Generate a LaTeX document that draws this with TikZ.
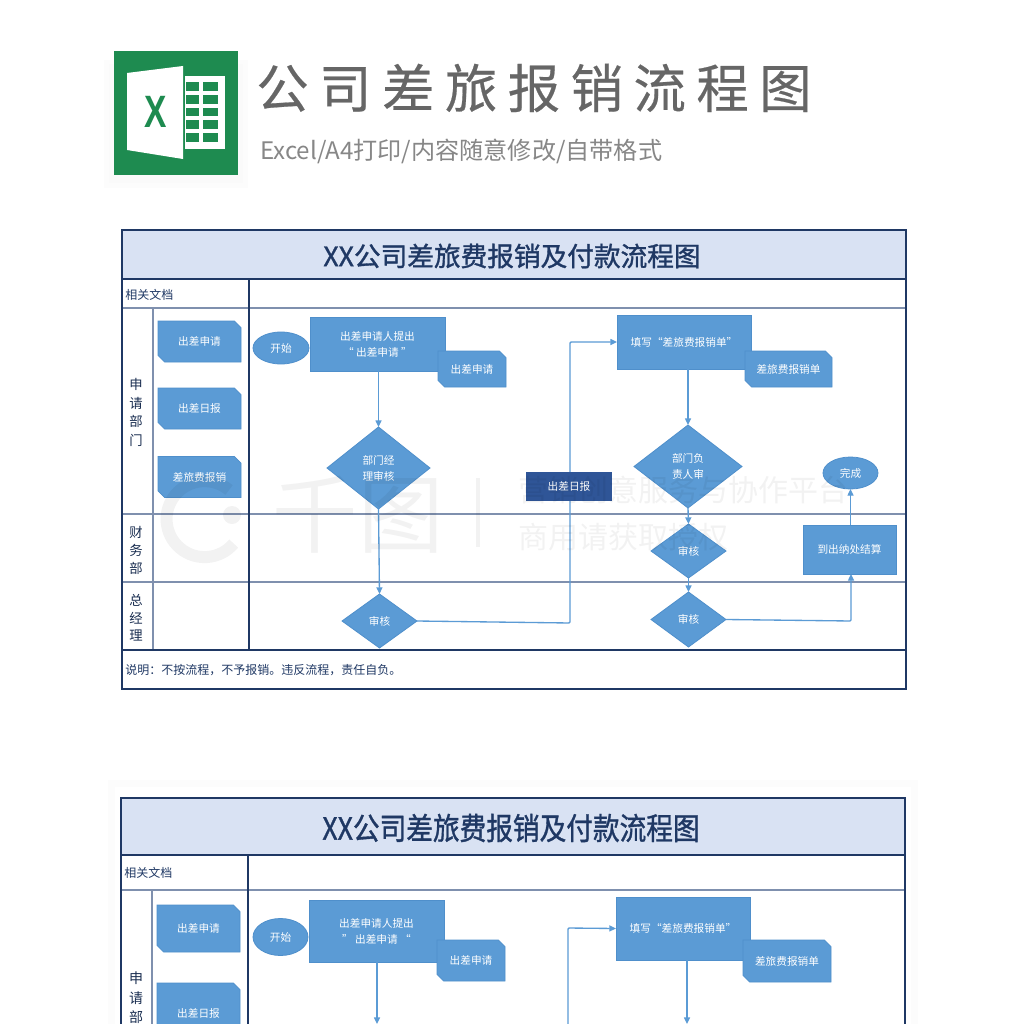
\documentclass[tikz,border=0pt]{standalone}
\usepackage{fontspec}
\usetikzlibrary{shapes.geometric,shapes.misc,arrows.meta}
\setmainfont{Noto Sans CJK SC}
\newfontfamily\cjk{Noto Sans CJK SC}
\newfontfamily\cjkspaced[LetterSpace=20,FakeBold=0.4]{Noto Sans CJK SC}
\newfontfamily\cjkheavy[FakeBold=1.2]{Noto Sans CJK SC}
\newfontfamily\latinbold[BoldFont=Liberation Sans Bold]{Liberation Sans}
\definecolor{flowblue}{HTML}{5B9BD5}
\definecolor{flowedge}{HTML}{4F8FCB}
\definecolor{arrowblue}{HTML}{5B9BD5}
\definecolor{navy}{HTML}{1F3864}
\definecolor{band}{HTML}{D9E2F3}
\definecolor{rowline}{HTML}{7F90AE}
\definecolor{darkbox}{HTML}{2F5597}
\definecolor{excel}{HTML}{1E8B50}
\def\u{0.75pt}
\tikzset{
  lbl/.style={font=\cjk\fontsize{8}{12}\selectfont,text=white,align=center,inner sep=0pt,outer sep=0pt},
  procbox/.style={lbl,rectangle,fill=flowblue,draw=flowedge,line width=0.6pt},
  docbox/.style={lbl,chamfered rectangle,chamfered rectangle corners={north east,south west},
    chamfered rectangle xsep=2.5pt,chamfered rectangle ysep=2.5pt,fill=flowblue,draw=flowedge,line width=0.6pt},
  oval/.style={lbl,ellipse,fill=flowblue,draw=flowedge,line width=0.6pt},
  decide/.style={lbl,diamond,aspect=1.3,fill=flowblue,draw=flowedge,line width=0.6pt},
  conn/.style={draw=arrowblue,line width=1pt,-{Triangle[length=5pt,width=4.5pt]},rounded corners=0.8pt},
  border/.style={draw=navy,line width=1.5pt},
  rowrule/.style={draw=rowline,line width=1.1pt},
  darkrule/.style={draw=navy,line width=1.3pt},
  tabletext/.style={font=\cjk\fontsize{9}{11}\selectfont,text=navy,inner sep=0pt},
  vtext/.style={font=\cjk\fontsize{10}{12}\selectfont,text=navy!80!black,inner sep=0pt},
  tabletitle/.style={font=\cjkheavy\fontsize{20}{22}\selectfont,text=navy,inner sep=0pt}
}
\begin{document}
\begin{tikzpicture}[x=0.75pt,y=-0.75pt]
\useasboundingbox (0,0) rectangle (1024,1024);
\clip (0,0) rectangle (1024,1024);
\fill[white] (0,0) rectangle (1024,1024);

% ---- header
\fill[black!1] (104,60) rectangle (248,188);
\fill[black!2] (109,64) rectangle (243,183);
\fill[excel] (114,51) rectangle (238,175);
\fill[white] (185,76) rectangle (225,149);
\foreach \yy/\hh in {82/91,95/104,108/116,120/129,133/142}{
  \fill[excel] (186,\yy) rectangle (199,\hh);
  \fill[excel] (203,\yy) rectangle (218,\hh);
}
\fill[white] (127,73) -- (183,66) -- (183,159) -- (127,150) -- cycle;
\node[font=\latinbold\bfseries\fontsize{34}{34}\selectfont,text=excel,xscale=0.74,inner sep=0pt] (excelx) at (156,112) {X};
\node[font=\cjkspaced\fontsize{39.3}{40}\selectfont,text=black!60,anchor=west,inner sep=0pt] (maintitle) at (256,88) {公司差旅报销流程图};
\node[font=\cjk\fontsize{18.1}{20}\selectfont,text=black!47,anchor=west,inner sep=0pt] (subtitle) at (260,151) {Excel/A4打印/内容随意修改/自带格式};

% ---- first table
\fill[band] (122,230) rectangle (906,279);
\draw[rowrule] (122,308) -- (906,308);
\draw[rowrule] (122,514) -- (906,514);
\draw[rowrule] (122,582) -- (906,582);
\draw[rowrule,line width=0.8pt] (153,308) -- (153,650);
\draw[darkrule] (122,279) -- (906,279);
\draw[darkrule] (249,279) -- (249,650);
\draw[darkrule] (122,650) -- (906,650);
\draw[border] (122,230) rectangle (906,689);

\node[tabletitle] (t1) at (512,256) {XX公司差旅费报销及付款流程图};
\node[tabletext,anchor=west] (t1doc) at (125,295) {相关文档};
\node[tabletext,anchor=west] (t1note) at (125,670) {说明：不按流程，不予报销。违反流程，责任自负。};
\foreach \nm/\yy/\tx in {a1/384/申,a2/403/请,a3/421/部,a4/440/门,b1/532/财,b2/550/务,b3/568/部,c1/600/总,c2/618/经,c3/636/理}{
  \node[vtext] (t1\nm) at (136,\yy) {\tx};
}
\node[docbox,minimum width=83*\u,minimum height=41*\u] (d1) at (199.5,341.5) {出差申请};
\node[docbox,minimum width=83*\u,minimum height=41*\u] (d2) at (199.5,408.5) {出差日报};
\node[docbox,minimum width=83*\u,minimum height=41*\u] (d3) at (199.5,477) {差旅费报销};

\coordinate (bendA) at (570,623);
\coordinate (bendB) at (570,342);
\coordinate (bendC) at (851,621);
\node[oval,minimum width=56*\u,minimum height=32*\u] (start) at (281,348) {开始};
\node[procbox,minimum width=135*\u,minimum height=54*\u] (apply) at (377.5,344) {出差申请人提出\\“ 出差申请 ”};
\node[docbox,minimum width=68*\u,minimum height=36*\u] (applydoc) at (472,369) {出差申请};
\node[decide,minimum width=103*\u,minimum height=82*\u] (dept) at (378.5,468) {部门经\\理审核};
\node[decide,minimum width=75*\u,minimum height=54*\u] (gm) at (379.5,621) {审核};
\node[procbox,minimum width=134*\u,minimum height=54*\u] (fill) at (684,342) {填写“差旅费报销单”};
\node[docbox,minimum width=87*\u,minimum height=36*\u] (filldoc) at (788.5,369) {差旅费报销单};
\node[decide,minimum width=108*\u,minimum height=83*\u] (head) at (688,466.5) {部门负\\责人审};
\node[decide,minimum width=75*\u,minimum height=54*\u] (fin) at (688.5,551) {审核};
\node[decide,minimum width=75*\u,minimum height=55*\u] (gm2) at (688.5,619.5) {审核};
\node[procbox,minimum width=93*\u,minimum height=49*\u] (cashier) at (849.5,549.5) {到出纳处结算};
\node[oval,minimum width=55*\u,minimum height=32*\u] (done) at (850.5,473) {完成};

\draw[conn] (apply.south -| dept.north) -- (dept.north);
\draw[conn] (dept.south) -- (gm.north);
\draw[conn] (fill.south -| head.north) -- (head.north);
\draw[conn] (head.south) -- (fin.north);
\draw[conn] (fin.south) -- (gm2.north);
\draw[conn] (gm.east) -- (bendA) -- (bendB) -- (fill.west);
\draw[conn] (gm2.east) -- (bendC) -- (cashier.south -| bendC);
\draw[conn] (cashier.north -| done.south) -- (done.south);
\node[lbl,rectangle,fill=darkbox,minimum width=86*\u,minimum height=29*\u] (daily) at (569,486.5) {出差日报};

% ---- second table
\fill[black!1] (108,780) rectangle (918,1024);
\fill[white] (115,787) rectangle (911,1024);
\fill[band] (121,798) rectangle (905,855);
\draw[rowrule] (121,890) -- (905,890);
\draw[rowrule,line width=0.8pt] (152,890) -- (152,1024);
\draw[darkrule] (121,855) -- (905,855);
\draw[darkrule] (248,855) -- (248,1024);
\draw[border] (121,1030) -- (121,798) -- (905,798) -- (905,1030);

\node[tabletitle,yscale=1.15] (t2) at (511,828) {XX公司差旅费报销及付款流程图};
\node[tabletext,anchor=west] (t2doc) at (124,873) {相关文档};
\foreach \nm/\yy/\tx in {a1/978/申,a2/998/请,a3/1017/部}{
  \node[vtext,font=\cjk\fontsize{10.5}{12}\selectfont] (t2\nm) at (136,\yy) {\tx};
}
\node[docbox,minimum width=83*\u,minimum height=47*\u] (e1) at (198.5,928.5) {出差申请};
\node[docbox,minimum width=83*\u,minimum height=60*\u] (e2) at (198.5,1013) {出差日报};
\node[oval,minimum width=55*\u,minimum height=37*\u] (start2) at (280.5,937) {开始};
\node[procbox,minimum width=135*\u,minimum height=62*\u] (apply2) at (376.5,931) {出差申请人提出\\” 出差申请 “};
\node[docbox,minimum width=68*\u,minimum height=41*\u] (applydoc2) at (471,960.5) {出差申请};
\node[procbox,minimum width=134*\u,minimum height=63*\u] (fill2) at (683,928.5) {填写“差旅费报销单”};
\node[docbox,minimum width=88*\u,minimum height=42*\u] (filldoc2) at (787,961) {差旅费报销单};
\coordinate (off1) at (377,1024);
\coordinate (off2) at (687,1024);
\coordinate (off3) at (568,1030);
\coordinate (bendD) at (568,928);
\draw[conn] (apply2.south -| off1) -- (off1);
\draw[conn] (fill2.south -| off2) -- (off2);
\draw[conn] (off3) -- (bendD) -- (fill2.west);

% ---- watermark
\begin{scope}[opacity=0.05]
\draw[black,line width=9pt] (229,490) arc (-50:-320:38);
\fill[black] (232,515) circle (9);
\node[font=\cjk\fontsize{64}{64}\selectfont,inner sep=0pt,text=black] (wm1) at (358,515) {千图};
\fill[black] (476,478) rectangle (480,547);
\node[font=\cjk\fontsize{22.5}{24}\selectfont,inner sep=0pt,anchor=west,text=black] (wm2) at (518,490) {营销创意服务与协作平台};
\node[font=\cjk\fontsize{22.5}{24}\selectfont,inner sep=0pt,anchor=west,text=black] (wm3) at (518,537) {商用请获取授权};
\end{scope}
\end{tikzpicture}
\end{document}
